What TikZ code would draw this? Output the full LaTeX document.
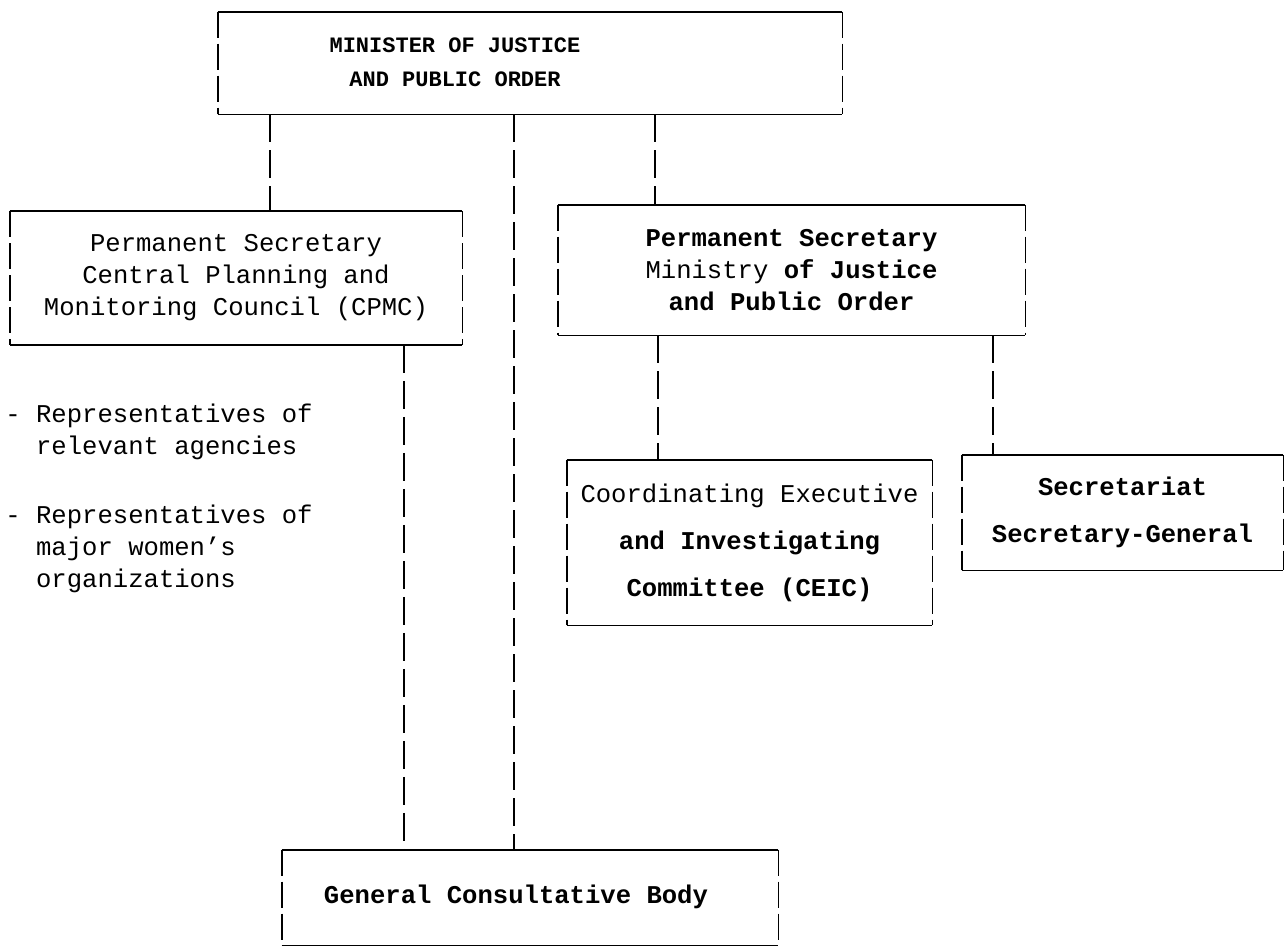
\documentclass[tikz,border=0pt]{standalone}
\usepackage{fontspec}
\setmonofont{Liberation Mono}
\usetikzlibrary{positioning}

\tikzset{
  orgbox/.style={inner sep=0pt, align=center, font=\ttfamily\fontsize{12.8}{16}\selectfont},
  widebox/.style={orgbox, font=\ttfamily\fontsize{12.8}{23.5}\selectfont},
  note/.style={inner sep=0pt, align=left, anchor=west, font=\ttfamily\fontsize{12.8}{16}\selectfont},
  link/.style={line width=0.9pt, dash pattern=on 14pt off 4pt},
  rule/.style={line width=0.9pt},
  side/.style={line width=0.9pt, dash pattern=on 13pt off 3pt},
}

% typed box: solid top and bottom, broken sides
\newcommand{\typedframe}[1]{%
  \draw[rule] (#1.north west) -- (#1.north east);
  \draw[rule] (#1.south west) -- (#1.south east);
  \draw[side] (#1.north west) -- (#1.south west);
  \draw[side] (#1.north east) -- (#1.south east);
}
% text block set off centre, to the left by half of #1
\newcommand{\offleft}[2]{\begin{tabular}{@{}c@{}}#2\end{tabular}\hspace*{#1}}

\begin{document}
\begin{tikzpicture}[x=0.5pt, y=-0.5pt]
\useasboundingbox (0,0) rectangle (1287,950);

% boxes
\node[orgbox, minimum width=312pt, minimum height=51pt,
      font=\ttfamily\bfseries\fontsize{11}{17}\selectfont] (min) at (530,63)
  {\offleft{75pt}{MINISTER OF JUSTICE\\AND PUBLIC ORDER}};
\node[orgbox, minimum width=226pt, minimum height=66.5pt] (cpmc) at (236,278)
  {Permanent Secretary\\Central Planning and\\Monitoring Council (CPMC)};
\node[orgbox, minimum width=233.5pt, minimum height=65pt] (ps) at (791.5,270)
  {\textbf{Permanent Secretary}\\Ministry \textbf{of Justice}\\\textbf{and Public Order}};
\node[widebox, minimum width=182.5pt, minimum height=82.5pt] (ceic) at (749.5,542.5)
  {Coordinating Executive\\\textbf{and Investigating}\\\textbf{Committee (CEIC)}};
\node[widebox, minimum width=160.5pt, minimum height=57.5pt] (sec) at (1122.5,512.5)
  {\textbf{Secretariat}\\\textbf{Secretary-General}};
\node[orgbox, minimum width=248pt, minimum height=47.5pt] (gcb) at (530,897.5)
  {\offleft{14pt}{\textbf{General Consultative Body}}};

\foreach \n in {min,cpmc,ps,ceic,sec,gcb} {\typedframe{\n}}

% members of the consultative body
\node[note] (reps1) at (5,432) {- Representatives of\\\hspace*{1.2em}relevant agencies};
\node[note] (reps2) at (5,549) {- Representatives of\\\hspace*{1.2em}major women’s\\\hspace*{1.2em}organizations};

% connectors
\coordinate (a1) at ([xshift=-130pt]min.south);
\coordinate (a2) at ([xshift=-8pt]min.south);
\coordinate (a3) at ([xshift=62.5pt]min.south);
\coordinate (b1) at ([xshift=84pt]cpmc.south);
\coordinate (c1) at ([xshift=-66.75pt]ps.south);
\coordinate (c2) at ([xshift=100.75pt]ps.south);
\draw[link] (a1) -- (a1 |- cpmc.north);
\draw[link] (a2) -- (a2 |- gcb.north);
\draw[link] (a3) -- (a3 |- ps.north);
\draw[link] (b1) -- (b1 |- gcb.north);
\draw[link] (c1) -- (c1 |- ceic.north);
\draw[link] (c2) -- (c2 |- sec.north);
\end{tikzpicture}
\end{document}
